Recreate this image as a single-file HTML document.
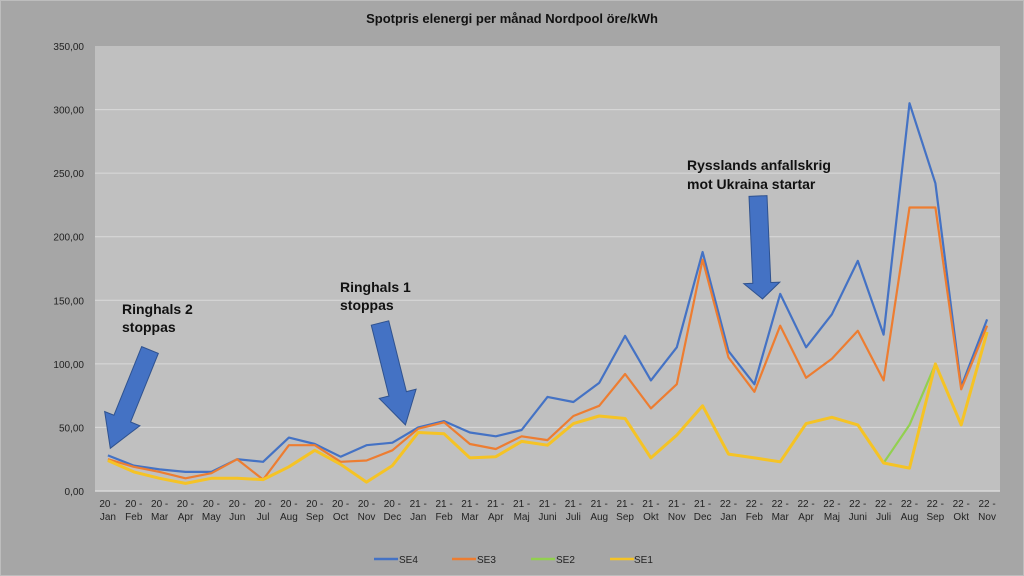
<!DOCTYPE html>
<html><head><meta charset="utf-8"><style>
body{margin:0;background:#a6a6a6;}
svg{display:block;font-family:"Liberation Sans",sans-serif;}
</style></head><body>
<svg id="s" width="1024" height="576" xmlns="http://www.w3.org/2000/svg">
<rect x="0" y="0" width="1024" height="576" fill="#a6a6a6"/>
<rect x="0.5" y="0.5" width="1023" height="575" fill="none" stroke="#bdbdbd" stroke-width="1"/>
<rect x="95" y="46" width="905" height="445" fill="#c0c0c0"/>
<text x="512" y="23" text-anchor="middle" font-size="13" font-weight="bold" fill="#111">Spotpris elenergi per månad Nordpool öre/kWh</text>
<g id="grid"></g>
<g id="lbl" font-size="10" fill="#222"></g>
<g id="lines" fill="none" stroke-linejoin="round"></g>
<g fill="#4472c4" stroke="#2f528f" stroke-width="1">
<polygon transform="translate(150,350) rotate(22)" points="-9,0 9,0 9,74 19,74 0,106 -19,74 -9,74"/>
<polygon transform="translate(380,323) rotate(-14)" points="-9,0 9,0 9,73 19,73 0,105 -19,73 -9,73"/>
<polygon transform="translate(758,196) rotate(-2.5)" points="-9,0 9,0 9,87 18,87 0,103 -18,87 -9,87"/>
</g>
<g font-size="14" font-weight="bold" fill="#111">
<text x="122" y="314">Ringhals 2</text><text x="122" y="332">stoppas</text>
<text x="340" y="292">Ringhals 1</text><text x="340" y="310">stoppas</text>
<text x="687" y="170">Rysslands anfallskrig</text><text x="687" y="189">mot Ukraina startar</text>
</g>
<g font-size="10" fill="#222">
<line x1="374" y1="559" x2="398" y2="559" stroke="#4472c4" stroke-width="2.5"/><text x="399" y="563">SE4</text>
<line x1="452" y1="559" x2="476" y2="559" stroke="#ed7d31" stroke-width="2.5"/><text x="477" y="563">SE3</text>
<line x1="531" y1="559" x2="555" y2="559" stroke="#92d050" stroke-width="2.5"/><text x="556" y="563">SE2</text>
<line x1="610" y1="559" x2="634" y2="559" stroke="#f5c325" stroke-width="2.5"/><text x="634" y="563">SE1</text>
</g>
</svg>
<script>
var NS="http://www.w3.org/2000/svg";
function el(p,t,a,txt){var e=document.createElementNS(NS,t);for(var k in a)e.setAttribute(k,a[k]);if(txt!=null)e.textContent=txt;document.getElementById(p).appendChild(e);}
function Y(v){return 491-v*445/350;}
function X(i){return 95+12.93+i*25.857;}
for(var v=50;v<=300;v+=50)el("grid","line",{x1:95,x2:1000,y1:Y(v),y2:Y(v),stroke:"#d9d9d9","stroke-width":1});
el("grid","line",{x1:95,x2:1000,y1:491,y2:491,stroke:"#d9d9d9","stroke-width":1.5});
for(var v=0;v<=350;v+=50)el("lbl","text",{x:84,y:Y(v)+4,"text-anchor":"end"},v+",00");
var m=["Jan","Feb","Mar","Apr","May","Jun","Jul","Aug","Sep","Oct","Nov","Dec","Jan","Feb","Mar","Apr","Maj","Juni","Juli","Aug","Sep","Okt","Nov","Dec","Jan","Feb","Mar","Apr","Maj","Juni","Juli","Aug","Sep","Okt","Nov"];
for(var i=0;i<35;i++){var yr=i<12?"20":i<24?"21":"22";el("lbl","text",{x:X(i),y:507,"text-anchor":"middle"},yr+" -");el("lbl","text",{x:X(i),y:520,"text-anchor":"middle"},m[i]);}
var se4=[28,20,17,15,15,25,23,42,37,27,36,38,50,55,46,43,48,74,70,85,122,87,113,188,110,84,155,113,139,181,123,305,242,82,135];
var se3=[25,19,15,10,14,25,9,36,36,23,24,32,49,54,37,33,43,40,59,67,92,65,84,182,105,78,130,89,104,126,87,223,223,80,130];
var se1=[24,15,10,6,10,10,9,19,32,21,7,20,46,45,26,27,39,36,53,59,57,26,44,67,29,26,23,53,58,52,22,18,100,52,125];
var se2=se1.slice();se2[31]=52;
function pl(d,c,w){el("lines","polyline",{points:d.map(function(v,i){return X(i).toFixed(1)+","+Y(v).toFixed(1)}).join(" "),stroke:c,"stroke-width":w});}
pl(se4,"#4472c4",2.2);pl(se3,"#ed7d31",2.2);pl(se2,"#92d050",2.2);pl(se1,"#f5c325",3);
</script>
</body></html>
